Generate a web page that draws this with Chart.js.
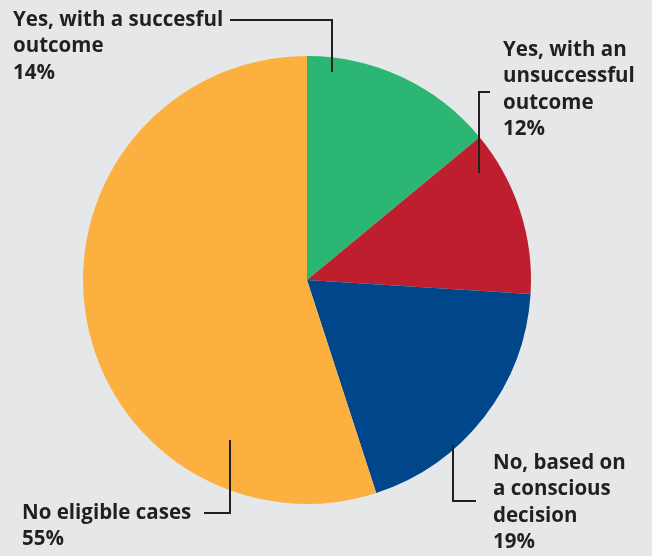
<!DOCTYPE html>
<html>
<head>
<meta charset="utf-8">
<script src="https://cdn.jsdelivr.net/npm/chart.js@4.4.1/dist/chart.umd.min.js"></script>
<style>
    html, body { margin: 0; padding: 0; background: #e6e7e8; }
    #wrap { width: 652px; height: 556px; position: relative; }
</style>
</head>
<body>
<div id="wrap"><canvas id="pieChart" width="652" height="556"></canvas></div>
<script>
const categories = ['Yes, with a succesful outcome', 'Yes, with an unsuccessful outcome', 'No, based on a conscious decision', 'No eligible cases'];
const shares = [14, 12, 19, 55];
const sliceColors = ['#2bb673', '#be1e2d', '#00468b', '#fbb040'];

// label text lines (last line is the percentage)
const labelLines = [
    ['Yes, with a succesful', 'outcome', shares[0] + '%'],
    ['Yes, with an', 'unsuccessful', 'outcome', shares[1] + '%'],
    ['No, based on', 'a conscious', 'decision', shares[2] + '%'],
    ['No eligible cases', shares[3] + '%']
];

// text origin + leader polyline per label
const labelLayout = [
    { x: 13, y: 20, line: [[230, 20], [332, 20], [332, 72]] },
    { x: 503, y: 50, line: [[490, 92], [479, 92], [479, 173]] },
    { x: 493, y: 463, line: [[453, 445], [453, 501], [476, 501]] },
    { x: 22, y: 513, line: [[204, 513], [230, 513], [230, 440]] }
];

const labelPlugin = {
    id: 'pieLabels',
    afterDraw(chart) {
        const ctx = chart.ctx;
        ctx.save();
        ctx.fillStyle = '#231f20';
        ctx.strokeStyle = '#231f20';
        ctx.lineWidth = 2;
        ctx.font = 'bold 20.5px "Open Sans"';
        ctx.textBaseline = 'middle';
        labelLayout.forEach((l, i) => {
            labelLines[i].forEach((t, j) => ctx.fillText(t, l.x, l.y + j * 26.5));
            ctx.beginPath();
            l.line.forEach((p, k) => k ? ctx.lineTo(p[0], p[1]) : ctx.moveTo(p[0], p[1]));
            ctx.stroke();
        });
        ctx.restore();
    }
};

new Chart(document.getElementById('pieChart'), {
    type: 'pie',
    data: {
        labels: categories,
        datasets: [{ data: shares, backgroundColor: sliceColors, borderWidth: 0 }]
    },
    options: {
        responsive: false,
        animation: false,
        layout: { padding: { left: 83, right: 121, top: 56, bottom: 52 } },
        plugins: { legend: { display: false }, tooltip: { enabled: false } }
    },
    plugins: [labelPlugin]
});
</script>
</body>
</html>
